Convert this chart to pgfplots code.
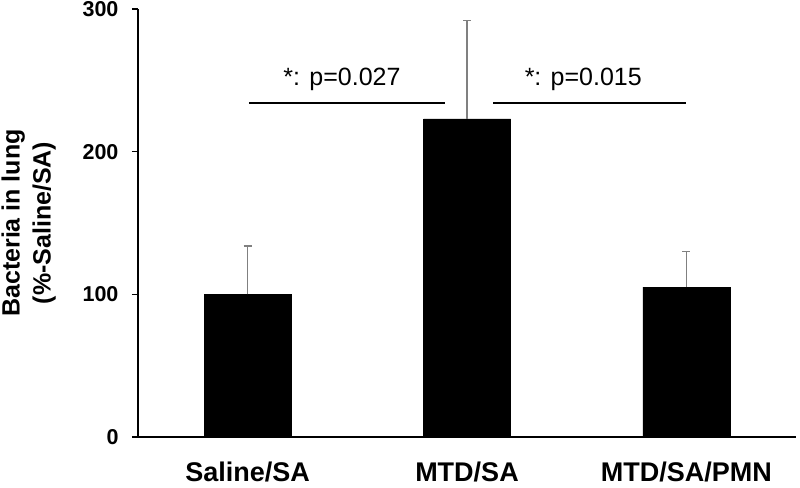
\documentclass[border=0pt]{standalone}
\usepackage{pgfplots}
\pgfplotsset{compat=1.18}
\usepackage{fontspec}
\setmainfont{Liberation Sans}
\definecolor{errgray}{RGB}{128,128,128}
\begin{document}
\begin{tikzpicture}[x=1pt,y=1pt]
\begin{axis}[
  at={(0,0)}, anchor=south west,
  scale only axis, width=658pt, height=428pt,
  xmin=-0.5, xmax=2.5, ymin=0, ymax=300,
  axis x line=bottom, axis y line=left,
  axis line style={-, line width=1.8pt, black},
  ytick={0,100,200,300},
  xtick={0,1,2},
  xticklabels={Saline/SA, MTD/SA, MTD/SA/PMN},
  x tick style={draw=none},
  extra x ticks={0.5,1.5,2.5},
  extra x tick labels={},
  extra x tick style={tick style={draw=black, line width=1.2pt}, major tick length=5pt},
  y tick style={line width=1.2pt, black},
  major tick length=6pt,
  tick align=outside,
  /pgf/number format/assume math mode=true,
  yticklabel style={font=\bfseries\fontsize{21.5}{21.5}\selectfont, xshift=-10pt},
  xticklabel style={font=\bfseries\fontsize{27}{27}\selectfont, yshift=-15pt},
  ylabel={Bacteria in lung\\(\%-Saline/SA)},
  ylabel style={align=center, font=\bfseries\fontsize{25}{31}\selectfont, yshift=20pt},
  clip=false,
]
\addplot[ybar, bar width=87pt, fill=black, draw=black, bar shift=0pt,
  error bars/.cd, y dir=plus, y explicit,
  error bar style={errgray, line width=1.6pt},
  error mark options={rotate=90, mark size=4pt, errgray, line width=1.6pt}]
  coordinates {
    (0,100) +- (0,34)
    (1,223) +- (0,69)
    (2,105) +- (0,25)
  };
\draw[line width=1.8pt] (axis cs:0.005,234) -- (axis cs:0.90,234);
\draw[line width=1.8pt] (axis cs:1.12,234) -- (axis cs:2.0,234);
\node[font=\fontsize{25}{25}\selectfont] at (axis cs:0.43,251) {*: p=0.027};
\node[font=\fontsize{25}{25}\selectfont] at (axis cs:1.53,251) {*: p=0.015};
\coordinate (bl) at (rel axis cs:0,0);
\end{axis}
\pgfresetboundingbox
\path (bl) ++(-138pt,-50pt) rectangle ++(800pt,487pt);
\end{tikzpicture}
\end{document}
